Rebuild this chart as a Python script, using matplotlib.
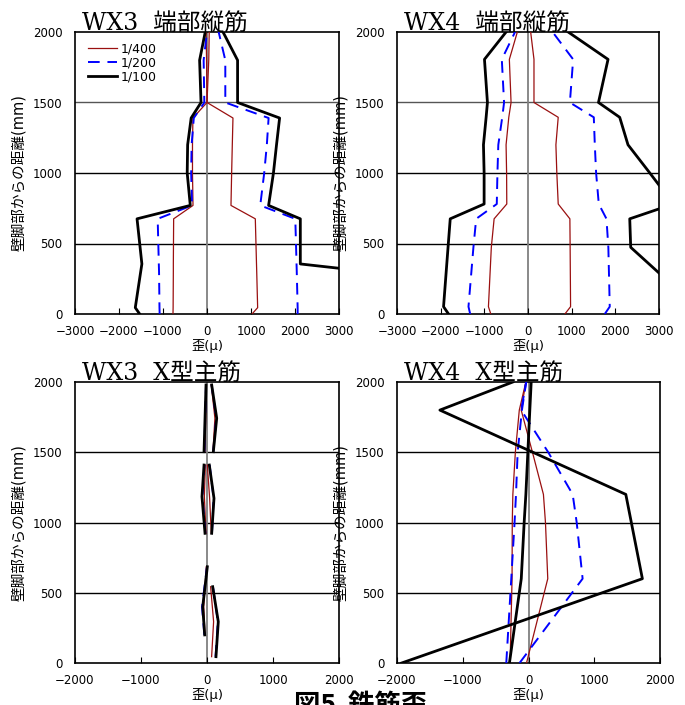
import numpy as np
import matplotlib
matplotlib.use("Agg")
import matplotlib.pyplot as plt

plt.rcParams['font.family'] = ['DejaVu Sans', 'Noto Sans CJK JP']

nan = np.nan

# WX3 end longitudinal bars
wx3_end_y = [0, 45, 300, 355, 675, 770, 1000, 1200, 1390, 1500, 1800, 2000]
wx3_end_400_neg = [-773, -770, -765, -765, -758, -318, -330, -330, -320, 0, -10, -20]
wx3_end_400_pos = [1023, 1151, 1130, 1125, 1098, 545, 560, 575, 590, 0, 40, 50]
wx3_end_200_neg = [-1076, -1080, -1090, -1095, -1121, -340, -360, -350, -300, -61, -76, 0]
wx3_end_200_pos = [2060, 2060, 2040, 2035, 2007, 1210, 1300, 1360, 1400, 416, 416, 265]
wx3_end_100_neg = [-1530, -1630, -1507, -1480, -1590, -380, -450, -440, -360, -136, -168, -40]
wx3_end_100_pos = [nan, nan, 3700, 2121, 2121, 1400, 1510, 1580, 1650, 695, 695, 364]

# WX4 end longitudinal bars
wx4_end_y = [0, 52, 473, 675, 780, 1000, 1200, 1395, 1500, 1806, 2000]
wx4_end_400_neg = [-852, -906, -840, -776, -486, -490, -502, -440, -388, -427, -244]
wx4_end_400_pos = [845, 975, 965, 959, 692, 660, 639, 692, 137, 137, 61]
wx4_end_200_neg = [-1324, -1363, -1250, -1187, -715, -700, -680, -590, -548, -600, -297]
wx4_end_200_pos = [1758, 1872, 1840, 1797, 1621, 1560, 1530, 1507, 959, 1034, 563]
wx4_end_100_neg = [-1820, -1934, -1831, -1781, -1005, -1005, -1020, -959, -929, -997, -502]
wx4_end_100_pos = [nan, 3850, 2352, 2330, 3330, 2790, 2290, 2100, 1614, 1833, 920]

# WX3 X-shaped main bars (gauges in three groups)
wx3_x_y_neg = [200, 400, 685, nan, 923, 1184, 1409, nan, 1504, 1979]
wx3_x_y_pos = [45, 294, 543, nan, 923, 1172, 1409, nan, 1504, 1742, 1979]
wx3_x_400_neg = [-30, -50, -10, nan, -15, -40, -25, nan, -30, -10]
wx3_x_400_pos = [70, 100, 55, nan, 65, 40, 5, nan, 90, 120, 65]
wx3_x_200_neg = [-40, -75, 0, nan, -25, -70, -40, nan, -40, -15]
wx3_x_200_pos = [130, 165, 90, nan, 75, 100, 40, nan, 95, 140, 70]
wx3_x_100_neg = [-35, -65, 5, nan, -30, -76, -45, nan, -45, -15]
wx3_x_100_pos = [136, 171, 86, nan, 71, 106, 35, nan, 96, 147, 71]

# WX4 X-shaped main bars
wx4_x_y = [0, 600, 1000, 1200, 1500, 1800, 2000]
wx4_x_400_neg = [-280, -250, -247, -238, -200, -140, -40]
wx4_x_400_pos = [-30, 293, 258, 227, 60, -111, -40]
wx4_x_200_neg = [-338, -262, -212, -190, -165, -100, -35]
wx4_x_200_pos = [-136, 823, 733, 672, 300, -111, -35]
wx4_x_100_neg = [-290, -110, -66, -40, -10, 20, 41]
wx4_x_100_pos = [-1929, 1732, 1564, 1480, 66, -1348, -238]

labels = ["1/400", "1/200", "1/100"]
red = "#9a1010"
styles = [dict(color=red, lw=0.9),
          dict(color="#0000ff", lw=1.4, dashes=(6, 4)),
          dict(color="black", lw=2.0)]

fig = plt.figure(figsize=(6.85, 7.05), dpi=100)
W, H = 685, 705


def make_ax(x0, y0, x1, y1):
    return fig.add_axes([x0 / W, 1 - y1 / H, (x1 - x0) / W, (y1 - y0) / H])


def setup(ax, title, xlim, xticks, top_row):
    ax.set_xlim(xlim)
    ax.set_ylim(0, 2000)
    ax.set_xticks(xticks)
    ax.set_yticks([0, 500, 1000, 1500, 2000])
    ax.tick_params(axis="x", direction="in", length=4, pad=8, labelsize=8.5)
    ax.tick_params(axis="y", length=0, pad=9, labelsize=8.5)
    for yv in [500, 1000, 1500]:
        c = "#555555" if (top_row and yv == 1500) else "black"
        ax.axhline(yv, color=c, lw=1.0, zorder=1)
    ax.axvline(0, color="#808080", lw=1.3, zorder=1)
    for s in ax.spines.values():
        s.set_linewidth(1.2)
    ax.set_xlabel("歪(μ)", fontsize=9.5, labelpad=0)
    ax.xaxis.set_label_coords(0.5, -0.09)
    ax.set_ylabel("壁脚部からの距離(mm)", fontsize=10.5)
    ax.yaxis.set_label_coords(-0.185, 0.5)
    ax.text(0.027, 1.008, title, transform=ax.transAxes, fontsize=17,
            family=['DejaVu Serif', 'Noto Sans CJK JP'], va="baseline", ha="left")


# top-left
ax1 = make_ax(75, 32, 339, 314)
setup(ax1, "WX3  端部縦筋", (-3000, 3000), range(-3000, 3001, 1000), True)
for st, lab, neg, pos in zip(styles, labels,
                             [wx3_end_400_neg, wx3_end_200_neg, wx3_end_100_neg],
                             [wx3_end_400_pos, wx3_end_200_pos, wx3_end_100_pos]):
    ax1.plot(neg, wx3_end_y, label=lab, zorder=3, **st)
    ax1.plot(pos, wx3_end_y, zorder=3, **st)
ax1.legend(loc="upper left", bbox_to_anchor=(0.02, 0.99), frameon=False,
           fontsize=9, handlelength=2.3, handletextpad=0.3, labelspacing=0.1,
           borderaxespad=0.2)

# top-right
ax2 = make_ax(397, 32, 659, 314)
setup(ax2, "WX4  端部縦筋", (-3000, 3000), range(-3000, 3001, 1000), True)
for st, neg, pos in zip(styles,
                        [wx4_end_400_neg, wx4_end_200_neg, wx4_end_100_neg],
                        [wx4_end_400_pos, wx4_end_200_pos, wx4_end_100_pos]):
    ax2.plot(neg, wx4_end_y, zorder=3, **st)
    ax2.plot(pos, wx4_end_y, zorder=3, **st)

# bottom-left
ax3 = make_ax(75, 382, 339, 663)
setup(ax3, "WX3  X型主筋", (-2000, 2000), range(-2000, 2001, 1000), False)
for st, neg, pos in zip(styles,
                        [wx3_x_400_neg, wx3_x_200_neg, wx3_x_100_neg],
                        [wx3_x_400_pos, wx3_x_200_pos, wx3_x_100_pos]):
    ax3.plot(neg, wx3_x_y_neg, zorder=3, **st)
    ax3.plot(pos, wx3_x_y_pos, zorder=3, **st)

# bottom-right
ax4 = make_ax(397, 382, 660, 663)
setup(ax4, "WX4  X型主筋", (-2000, 2000), range(-2000, 2001, 1000), False)
for st, neg, pos in zip(styles,
                        [wx4_x_400_neg, wx4_x_200_neg, wx4_x_100_neg],
                        [wx4_x_400_pos, wx4_x_200_pos, wx4_x_100_pos]):
    ax4.plot(neg, wx4_x_y, zorder=3, **st)
    ax4.plot(pos, wx4_x_y, zorder=3, **st)

fig.text(0.526, 13 / H, "図5  鉄筋歪", fontsize=19, fontweight="bold",
         family=['Noto Sans CJK JP', 'DejaVu Sans'], ha="center", va="top")

fig.savefig("out.png", dpi=100)
